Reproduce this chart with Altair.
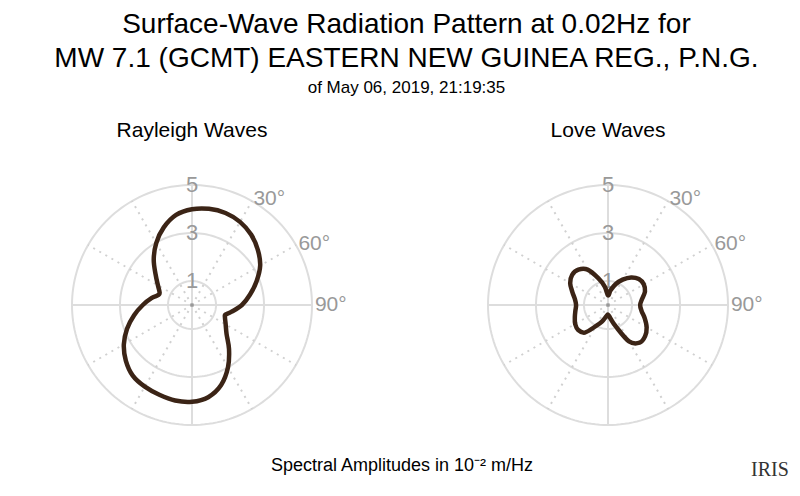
import altair as alt
import pandas as pd
import numpy as np

# ---------------- data ----------------
TITLE_LINES = ["Surface-Wave Radiation Pattern at 0.02Hz for",
               "MW 7.1 (GCMT) EASTERN NEW GUINEA REG., P.N.G."]
SUBTITLE = "of May 06, 2019, 21:19:35"
PANEL_TITLES = ["Rayleigh Waves", "Love Waves"]
FOOTER_TEXT = "Spectral Amplitudes in 10\u207b\u00b2 m/Hz"
LOGO_TEXT = "IRIS"

# azimuth in degrees (clockwise from north), amplitude in 10^-2 m/Hz
ray_theta = [0, 10, 20, 30, 40, 50, 60, 70, 80, 90, 100, 106, 110, 120, 130, 140, 150, 160, 170,
             180, 190, 200, 210, 220, 230, 240, 250, 260, 270, 280, 287, 292, 300, 310, 320, 330, 340, 350]
ray_r = [3.99, 4.07, 4.08, 4.00, 3.83, 3.58, 3.28, 2.86, 2.45, 2.08, 1.66, 1.45, 1.46, 1.62, 1.88, 2.40, 3.00, 3.55, 3.90,
         4.03, 4.04, 3.98, 3.93, 3.84, 3.60, 3.28, 2.88, 2.45, 2.05, 1.70, 1.45, 1.46, 1.64, 1.98, 2.48, 2.98, 3.44, 3.81]

love_theta = [0, 10, 20, 30, 40, 50, 60, 70, 80, 90, 100, 110, 120, 130, 140, 150, 160, 170,
              180, 190, 200, 210, 220, 230, 240, 250, 260, 270, 280, 290, 300, 310, 320, 330, 340, 350]
love_r = [0.40, 0.62, 0.92, 1.22, 1.50, 1.68, 1.72, 1.64, 1.44, 1.34, 1.42, 1.63, 1.86, 2.02, 2.05, 1.75, 0.95, 0.56,
          0.40, 0.50, 0.74, 1.02, 1.50, 1.62, 1.58, 1.47, 1.38, 1.33, 1.40, 1.58, 1.82, 1.95, 1.92, 1.70, 1.19, 0.78]

ring_radii = [1, 3, 5]
ring_labels = ["1", "3", "5"]
solid_spokes = [0, 90, 180, 270]
dotted_spokes = [30, 60, 120, 150, 210, 240, 300, 330]
angle_ticks = [30, 60, 90]
angle_labels = ["30\u00b0", "60\u00b0", "90\u00b0"]
R_MAX = 5

# ---------------- styling / layout ----------------
FONT = "Liberation Sans"
CURVE_COLOR = "#3b2416"
GRID_COLOR = "#dddddd"
LABEL_COLOR = "#999999"
XDOM = [-7, 7]
YDOM = [-5.5, 5.5]
W = 336
H = 264

def X(field):
    return alt.X(field, type="quantitative", scale=alt.Scale(domain=XDOM, nice=False, zero=False), axis=None)

def Y(field):
    return alt.Y(field, type="quantitative", scale=alt.Scale(domain=YDOM, nice=False, zero=False), axis=None)

polar_x = "datum.r * sin(datum.a * PI / 180)"
polar_y = "datum.r * cos(datum.a * PI / 180)"

ring_df = pd.DataFrame([{"r": r, "a": a} for r in ring_radii for a in range(0, 361, 2)])
solid_df = pd.DataFrame({"a": solid_spokes, "r": R_MAX})
dotted_df = pd.DataFrame({"a": dotted_spokes, "r": R_MAX})
ringlab_df = pd.DataFrame({"r": ring_radii, "label": ring_labels, "a": 0})
anglab_df = pd.DataFrame({"a": angle_ticks, "label": angle_labels, "r": R_MAX + 0.12})
center_df = pd.DataFrame({"r": [0], "a": [0]})


def panel(theta, r, title):
    curve_df = pd.DataFrame({"a": theta, "r": r})
    rings = alt.Chart(ring_df).transform_calculate(x=polar_x, y=polar_y).mark_line(
        color=GRID_COLOR, strokeWidth=2).encode(x=X("x"), y=Y("y"), detail="r:N", order="a:Q")
    solid = alt.Chart(solid_df).transform_calculate(x0="0", y0="0", x1=polar_x, y1=polar_y).mark_rule(
        color=GRID_COLOR, strokeWidth=2).encode(x=X("x0"), y=Y("y0"), x2="x1:Q", y2="y1:Q")
    dotted = alt.Chart(dotted_df).transform_calculate(x0="0", y0="0", x1=polar_x, y1=polar_y).mark_rule(
        color="#d0d0d0", strokeWidth=2, strokeDash=[2, 5]).encode(x=X("x0"), y=Y("y0"), x2="x1:Q", y2="y1:Q")
    center = alt.Chart(center_df).transform_calculate(x=polar_x, y=polar_y).mark_point(
        filled=True, size=14, color="#999999", opacity=1).encode(x=X("x"), y=Y("y"))
    rlab = alt.Chart(ringlab_df).transform_calculate(x=polar_x, y=polar_y).mark_text(
        font=FONT, fontSize=22, color=LABEL_COLOR, align="center", baseline="middle").encode(
        x=X("x"), y=Y("y"), text="label:N")
    alab = alt.Chart(anglab_df).transform_calculate(x=polar_x, y=polar_y).mark_text(
        font=FONT, fontSize=21, color=LABEL_COLOR, align="left", baseline="middle").encode(
        x=X("x"), y=Y("y"), text="label:N")
    curve = alt.Chart(curve_df).transform_calculate(x=polar_x, y=polar_y).mark_line(
        interpolate="cardinal-closed", color=CURVE_COLOR, strokeWidth=4.5).encode(
        x=X("x"), y=Y("y"), order="a:Q")
    return alt.layer(rings, solid, dotted, center, rlab, alab, curve).properties(
        width=W, height=H,
        title=alt.Title(title, fontSize=21, font=FONT, fontWeight="normal", color="black",
                        anchor="middle", offset=32))


left = panel(ray_theta, ray_r, PANEL_TITLES[0])
right = panel(love_theta, love_r, PANEL_TITLES[1])

footer_df = pd.DataFrame({"t": [FOOTER_TEXT]})
logo_df = pd.DataFrame({"t": [LOGO_TEXT]})
FW = 2 * W + 80
footer_text = alt.Chart(footer_df).mark_text(font=FONT, fontSize=18, color="black",
                                             align="center", baseline="middle").encode(
    x=alt.value(378), y=alt.value(15), text="t:N")
logo = alt.Chart(logo_df).mark_text(font="Liberation Serif", fontSize=20, color="#333333",
                                    align="center", baseline="middle").encode(
    x=alt.value(746), y=alt.value(19), text="t:N")
footer = alt.layer(footer_text, logo).properties(width=FW, height=30)

chart = alt.vconcat(
    alt.hconcat(left, right, spacing=80),
    footer,
    spacing=14,
).properties(
    title=alt.Title(TITLE_LINES, subtitle=SUBTITLE, fontSize=28, subtitleFontSize=17,
                    font=FONT, subtitleFont=FONT, fontWeight="normal", color="black",
                    subtitleColor="black", anchor="middle", lineHeight=34,
                    subtitlePadding=7, offset=24),
    padding={"left": 16, "top": 3, "right": 0, "bottom": 0},
).configure_view(strokeWidth=0)

chart.save("out.html", embed_options={"renderer": "svg", "actions": False})
